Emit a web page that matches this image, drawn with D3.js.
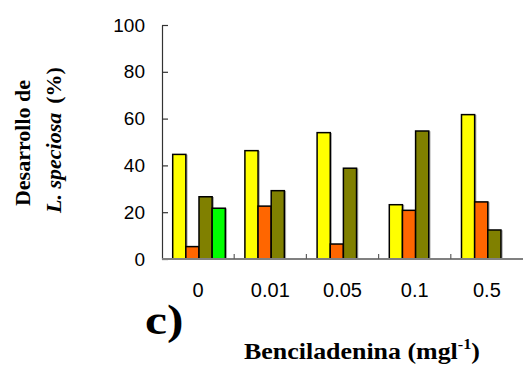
<!DOCTYPE html>
<html>
<head>
<meta charset="utf-8">
<script src="https://cdn.jsdelivr.net/npm/d3@7"></script>
<style>
  body { margin:0; background:#fff; }
  svg { display:block; }
</style>
</head>
<body>
<svg id="drawing_region"></svg>
<script>
// data
const categories = ['0', '0.01', '0.05', '0.1', '0.5'];
const seriesKeys = ['s1', 's2', 's3', 's4'];
const seriesColors = ['#ffff00', '#ff6600', '#808000', '#00ff00'];
const s1 = [44.7, 46.3, 54.0, 23.2, 61.7];
const s2 = [5.3, 22.6, 6.4, 20.8, 24.4];
const s3 = [26.6, 29.2, 38.8, 54.7, 12.4];
const s4 = [21.7, null, null, null, null];
const yTicks = [0, 20, 40, 60, 80, 100];

const values = [s1, s2, s3, s4];
const rows = [];
categories.forEach((c, i) => {
    seriesKeys.forEach((k, j) => {
        if (values[j][i] != null) rows.push({cat: c, key: k, value: values[j][i], color: seriesColors[j]});
    });
});

const width = 524, height = 367;
const svg = d3.select('#drawing_region')
    .attr('width', width)
    .attr('height', height);

const plotLeft = 162, plotRight = 523, plotTop = 25, plotBottom = 259;

const xscale = d3.scaleBand()
    .domain(categories)
    .range([plotLeft, plotRight]);

const xinner = d3.scaleBand()
    .domain(seriesKeys)
    .range([10.7, 63.3]);

const yscale = d3.scaleLinear()
    .domain([0, 100])
    .range([plotBottom, plotTop]);

// bars (with faint shadow)
const bars = svg.append('g');
bars.selectAll('rect.shadow')
    .data(rows)
    .join('rect')
    .attr('class', 'shadow')
    .attr('x', d => xscale(d.cat) + xinner(d.key) + 1)
    .attr('y', d => yscale(d.value) + 1)
    .attr('width', xinner.bandwidth())
    .attr('height', d => plotBottom - yscale(d.value) - 1)
    .attr('fill', 'none')
    .attr('stroke', '#aaa')
    .attr('stroke-width', 1.5);
bars.selectAll('rect.bar')
    .data(rows)
    .join('rect')
    .attr('class', 'bar')
    .attr('x', d => xscale(d.cat) + xinner(d.key))
    .attr('y', d => yscale(d.value))
    .attr('width', xinner.bandwidth())
    .attr('height', d => plotBottom - yscale(d.value))
    .attr('fill', d => d.color)
    .attr('stroke', '#000')
    .attr('stroke-width', 1.5);

// y axis
const yaxis = d3.axisRight(yscale)
    .tickValues(yTicks)
    .tickSize(6)
    .tickSizeOuter(0)
    .tickFormat(d3.format('d'));
const yg = svg.append('g')
    .attr('transform', `translate(${plotLeft},0)`)
    .call(yaxis);
yg.select('.domain').attr('stroke', '#333').attr('stroke-width', 1.2);
yg.selectAll('.tick line').attr('stroke', '#333').attr('stroke-width', 1.2);
yg.selectAll('.tick text')
    .attr('x', -17)
    .attr('text-anchor', 'end')
    .attr('font-family', 'Liberation Sans, Arial, sans-serif')
    .attr('font-size', 19)
    .attr('fill', '#000');

// x axis: line with boundary ticks, labels centered in bands
const xg = svg.append('g');
xg.append('line')
    .attr('x1', plotLeft).attr('x2', plotRight)
    .attr('y1', plotBottom).attr('y2', plotBottom)
    .attr('stroke', '#808080').attr('stroke-width', 2);
xg.selectAll('line.bt')
    .data(categories.slice(1))
    .join('line')
    .attr('class', 'bt')
    .attr('x1', d => xscale(d)).attr('x2', d => xscale(d))
    .attr('y1', plotBottom).attr('y2', plotBottom - 5)
    .attr('stroke', '#606060').attr('stroke-width', 1.2);
xg.selectAll('text')
    .data(categories)
    .join('text')
    .attr('x', d => xscale(d) + xscale.bandwidth() / 2)
    .attr('y', 297)
    .attr('text-anchor', 'middle')
    .attr('font-family', 'Liberation Sans, Arial, sans-serif')
    .attr('font-size', 20)
    .text(d => d);

// y label
const serif = 'Liberation Serif, Times New Roman, serif';
svg.append('text')
    .attr('transform', 'translate(30,143) rotate(-90)')
    .attr('text-anchor', 'middle')
    .attr('font-family', serif)
    .attr('font-weight', 'bold')
    .attr('font-size', 22)
    .text('Desarrollo de');
const yl2 = svg.append('text')
    .attr('transform', 'translate(61,140) rotate(-90)')
    .attr('text-anchor', 'middle')
    .attr('font-family', serif)
    .attr('font-weight', 'bold')
    .attr('font-size', 22);
yl2.append('tspan').attr('font-style', 'italic').text('L. speciosa');
yl2.append('tspan').attr('dx', 9).text('(%)');

// panel label
svg.append('text')
    .attr('transform', 'translate(145,334) scale(1.15,1)')
    .attr('font-family', serif)
    .attr('font-weight', 'bold')
    .attr('font-size', 43)
    .text('c)');

// x label
const xl = svg.append('text')
    .attr('transform', 'translate(362,359) scale(1.08,1)')
    .attr('text-anchor', 'middle')
    .attr('font-family', serif)
    .attr('font-weight', 'bold')
    .attr('font-size', 24);
xl.append('tspan').text('Benciladenina (mgl');
xl.append('tspan').attr('dy', -10).attr('font-size', 15).text('-1');
xl.append('tspan').attr('dy', 10).text(')');
</script>
</body>
</html>
